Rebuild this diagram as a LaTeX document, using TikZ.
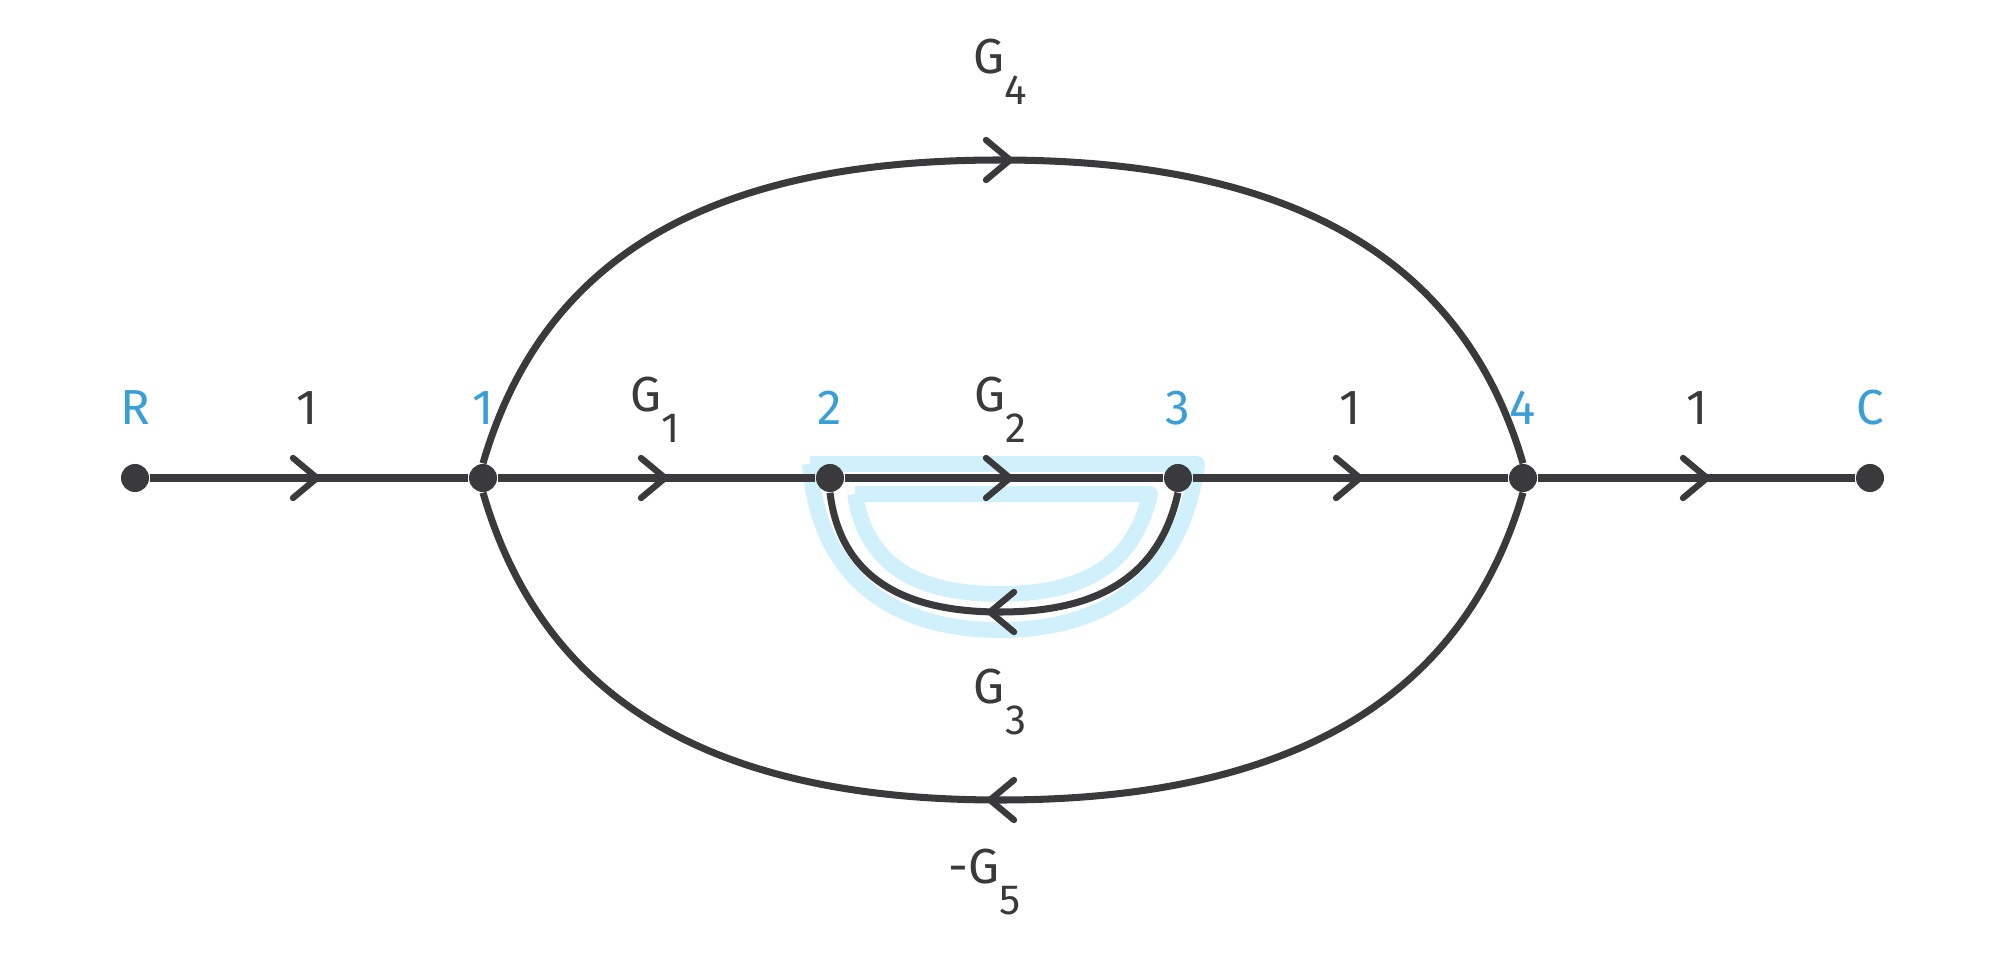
\documentclass[tikz,border=0pt]{standalone}
\usepackage{fontspec}
\setmainfont{Fira Sans}
\definecolor{dk}{HTML}{3A3A3D}
\definecolor{bl}{HTML}{3A9FD6}
\definecolor{hl}{HTML}{D0F0FB}
\begin{document}
\begin{tikzpicture}[x=0.01cm,y=-0.01cm,
  dot/.style={circle,fill=dk,inner sep=0,minimum size=0.28cm},
  edge/.style={draw=dk,line width=2pt},
  chev/.style={draw=dk,line width=1.8pt,line cap=round,line join=round},
  lab/.style={text=dk,font=\fontsize{14}{16}\selectfont},
  nlab/.style={text=bl,font=\fontsize{14}{16}\selectfont}]
\useasboundingbox (0,0) rectangle (2000,964);
% highlight
\draw[hl,line width=4.5pt,line join=round] (810,464) -- (1197,464) .. controls (1182,575) and (1110,630) .. (1000,630) .. controls (890,630) and (818,575) .. (810,464);
\draw[hl,line width=4.5pt,line join=round] (855,494) -- (1150,494) .. controls (1135,560) and (1090,594) .. (1000,594) .. controls (910,594) and (865,560) .. (855,494);
\node[dot] (R) at (135,478) {};
\node[dot] (n1) at (483,478) {};
\node[dot] (n2) at (830,478) {};
\node[dot] (n3) at (1178,478) {};
\node[dot] (n4) at (1523,478) {};
\node[dot] (C) at (1870,478) {};
\draw[edge] (R) -- (n1) -- (n2) -- (n3) -- (n4) -- (C);
\draw[edge] (n1.north) .. controls (545,250) and (720,160) .. (1000,160) .. controls (1280,160) and (1461,250) .. (n4.north);
\draw[edge] (n4.south) .. controls (1461,706) and (1280,800) .. (1000,800) .. controls (720,800) and (545,706) .. (n1.south);
\draw[edge] (n3.south) .. controls (1160,575) and (1100,612) .. (1000,612) .. controls (900,612) and (840,575) .. (n2.south);
% chevrons
\foreach \x in {307,655,1000,1350,1697}
  \draw[chev] (\x-14,458) -- (\x+10,478) -- (\x-14,498);
\draw[chev] (986,140) -- (1010,160) -- (986,180);
\draw[chev] (1014,592) -- (990,612) -- (1014,632);
\draw[chev] (1014,780) -- (990,800) -- (1014,820);
% labels
\node[nlab] (lR) at (135,408) {R};
\node[lab] (e1) at (307,408) {1};
\node[nlab] (l1) at (483,408) {1};
\node[lab] (eG1) at (655,410) {G\raisebox{-1.2ex}{\fontsize{12}{14}\selectfont 1}};
\node[nlab] (l2) at (830,408) {2};
\node[lab] (eG2) at (1000,410) {G\raisebox{-1.2ex}{\fontsize{12}{14}\selectfont 2}};
\node[nlab] (l3) at (1178,408) {3};
\node[lab] (e2) at (1350,408) {1};
\node[nlab] (l4) at (1523,408) {4};
\node[lab] (e3) at (1697,408) {1};
\node[nlab] (lC) at (1870,408) {C};
\node[lab] (eG4) at (1000,72) {G\raisebox{-1.2ex}{\fontsize{12}{14}\selectfont 4}};
\node[lab] (eG3) at (1000,702) {G\raisebox{-1.2ex}{\fontsize{12}{14}\selectfont 3}};
\node[lab] (eG5) at (985,882) {-G\raisebox{-1.2ex}{\fontsize{12}{14}\selectfont 5}};
\end{tikzpicture}
\end{document}
